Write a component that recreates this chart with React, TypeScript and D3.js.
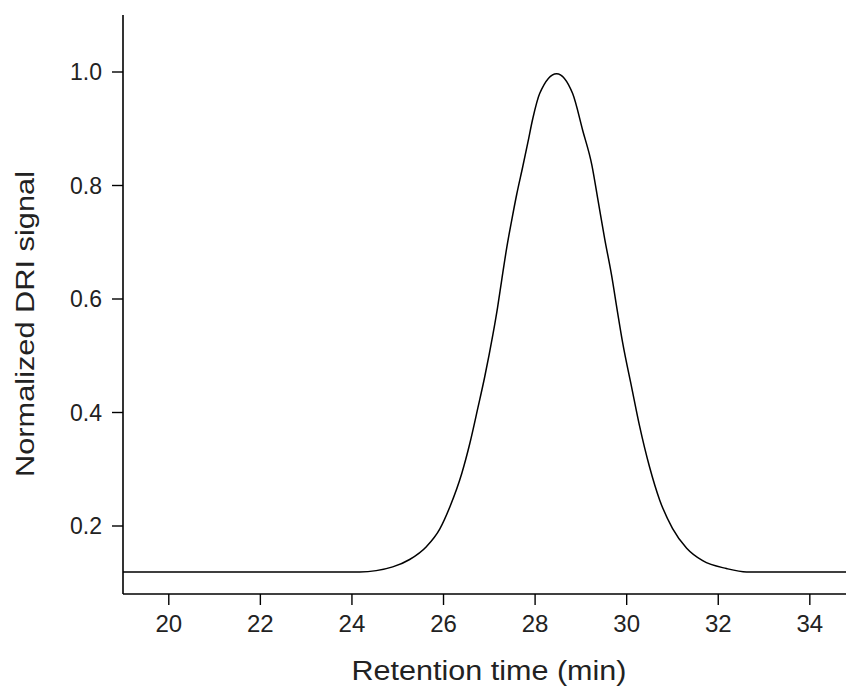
import React from "react";
import * as d3 from "d3";

const retentionTime = [
  19.0, 24.17, 24.89, 25.26, 25.63, 25.92, 26.14, 26.4, 26.57, 26.75, 26.9, 27.08,
  27.18, 27.27, 27.38, 27.49, 27.6, 27.73, 27.84, 27.95, 28.1, 28.47, 28.82, 29.04,
  29.24, 29.37, 29.52, 29.67, 29.8, 29.91, 30.11, 30.28, 30.5, 30.72, 31.0, 31.31,
  31.66, 32.18, 32.62, 34.8,
];
const driSignal = [
  0.119, 0.119, 0.128, 0.141, 0.164, 0.195, 0.234, 0.293, 0.344, 0.408, 0.463, 0.538,
  0.585, 0.633, 0.69, 0.739, 0.785, 0.833, 0.875, 0.918, 0.962, 0.997, 0.962, 0.897,
  0.836, 0.776, 0.706, 0.642, 0.577, 0.524, 0.444, 0.377, 0.304, 0.246, 0.196, 0.161,
  0.139, 0.125, 0.119, 0.119,
];
const xTicks = [20, 22, 24, 26, 28, 30, 32, 34];
const yTicks = [0.2, 0.4, 0.6, 0.8, 1.0];
const xTitle = "Retention time (min)";
const yTitle = "Normalized DRI signal";

const W = 846;
const H = 687;
const FONT = "'Liberation Sans', Arial, sans-serif";

export default function App() {
  const x = d3.scaleLinear().domain([19, 34.79]).range([123, 846]);
  const y = d3.scaleLinear().domain([0.2, 1.0]).range([526, 72]);
  const yTop = 15;
  const xAxisY = 594;

  const pts = retentionTime.map((t, i) => [t, driSignal[i]] as [number, number]);
  const line = d3
    .line<[number, number]>()
    .x((d) => x(d[0]))
    .y((d) => y(d[1]))
    .curve(d3.curveMonotoneX);

  return (
    <svg
      width={W}
      height={H}
      style={{ position: "absolute", left: 0, top: 0, background: "#fff" }}
    >
      <rect x={0} y={0} width={W} height={H} fill="#fff" />
      {/* curve */}
      <path d={line(pts) || ""} fill="none" stroke="#000" strokeWidth={1.5} />
      {/* y axis */}
      <line x1={123} x2={123} y1={yTop} y2={xAxisY} stroke="#000" strokeWidth={1.6} />
      {yTicks.map((v) => (
        <g key={v}>
          <line x1={112} x2={123} y1={y(v)} y2={y(v)} stroke="#000" strokeWidth={1.4} />
          <text
            x={102}
            y={y(v)}
            dy="0.36em"
            textAnchor="end"
            fontFamily={FONT}
            fontSize={23}
            fill="#222"
          >
            {v.toFixed(1)}
          </text>
        </g>
      ))}
      {/* x axis */}
      <line x1={123} x2={W} y1={xAxisY} y2={xAxisY} stroke="#000" strokeWidth={1.6} />
      {xTicks.map((t) => (
        <g key={t}>
          <line x1={x(t)} x2={x(t)} y1={xAxisY} y2={xAxisY + 11} stroke="#000" strokeWidth={1.4} />
          <text
            x={x(t)}
            y={632}
            textAnchor="middle"
            fontFamily={FONT}
            fontSize={24}
            fill="#222"
          >
            {t}
          </text>
        </g>
      ))}
      <text
        x={489}
        y={680}
        textAnchor="middle"
        fontFamily={FONT}
        fontSize={27}
        textLength={275}
        lengthAdjust="spacingAndGlyphs"
        fill="#222"
      >
        {xTitle}
      </text>
      <text
        transform={`translate(34, 324) rotate(-90)`}
        textAnchor="middle"
        fontFamily={FONT}
        fontSize={26}
        textLength={306}
        lengthAdjust="spacingAndGlyphs"
        fill="#222"
      >
        {yTitle}
      </text>
    </svg>
  );
}
